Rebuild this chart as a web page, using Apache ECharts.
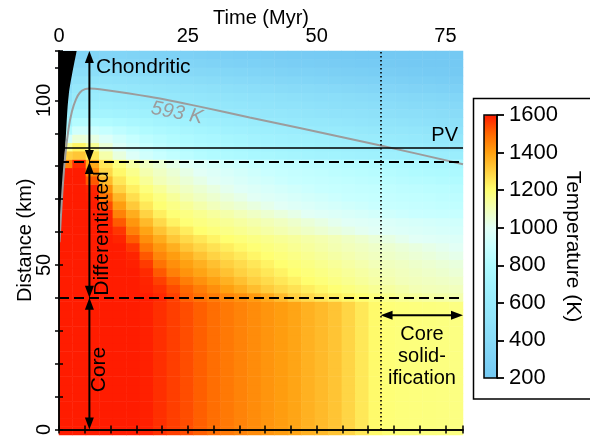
<!DOCTYPE html>
<html><head><meta charset="utf-8">
<script src="https://cdn.jsdelivr.net/npm/echarts/dist/echarts.min.js"></script>
<style>html,body{margin:0;padding:0;background:#fff}#c{width:590px;height:438px}</style>
</head><body><div id="c"></div>
<script>
// ---- axes ----
const timeMax = 78.4;          // Myr
const radiusMax = 115;         // km
const timeLabelStep = 25;
const radiusLabelStep = 50;
const tempMin = 200, tempMax = 1600;

// ---- structure lines (km / Myr) ----
const layerBounds = [0, 40, 81.3, 115];   // core | differentiated | chondritic
const pvRadius = 85.5;
const solidificationStart = 62.4;
const arrowTime = 5.9;
const solidArrowRadius = 34.7;

// ---- 593 K isotherm ----
const isoTime   = [0.1, 0.58, 1.16, 1.84, 2.52, 3.29, 4.07, 5.04, 6.0, 7.9, 17.6, 27.3, 37.0, 46.7, 62.4, 78.4];
const isoRadius = [56.9, 70.4, 82.3, 91.3, 96.7, 100.3, 102.4, 103.4, 103.6, 103.4, 101.1, 98.1, 94.8, 91.6, 86.3, 80.6];

// ---- accretion front (outside of body = black) ----
const accTime   = [0, 0.2, 0.62, 1.25, 1.9, 3.43];
const accRadius = [50, 59, 71.9, 86.8, 101.8, 115];

// ---- temperature field (K): 30 time columns x 2.5 km rows ----
// core rows (0-40 km) are isothermal with depth
const coreTemps = [1600,1600,1600,1600,1600,1600,1595,1575,1555,1535,1512,1490,1470,1452,1435,1420,1405,1390,1365,1345,1325,1290,1250,1210,1190,1185,1182,1180,1178,1175];
// differentiated mantle rows, 40 km upward
const mantleTemps = [
[1600,1600,1600,1600,1600,1600,1600,1585,1553,1510,1485,1466,1447,1429,1410,1382,1341,1301,1278,1255,1236,1218,1200,1182,1164,1148,1140,1131,1123,1114],
[1600,1600,1600,1600,1600,1600,1592,1574,1537,1500,1463,1430,1400,1370,1339,1309,1284,1261,1237,1214,1194,1179,1164,1149,1134,1119,1104,1098,1095,1091],
[1600,1600,1600,1600,1600,1600,1590,1553,1506,1460,1426,1395,1364,1333,1301,1277,1252,1228,1203,1187,1172,1157,1142,1127,1112,1099,1092,1086,1079,1073],
[1600,1600,1600,1600,1600,1600,1582,1520,1457,1422,1391,1360,1329,1298,1274,1249,1225,1200,1186,1172,1158,1143,1129,1115,1101,1091,1082,1073,1064,1054],
[1600,1600,1600,1600,1600,1595,1559,1480,1430,1398,1366,1334,1301,1276,1251,1226,1201,1186,1172,1157,1143,1128,1114,1099,1090,1080,1070,1060,1050,1040],
[1600,1600,1600,1600,1600,1590,1521,1444,1405,1366,1328,1293,1268,1244,1219,1197,1183,1169,1154,1140,1126,1112,1098,1087,1076,1065,1054,1043,1031,1020],
[1600,1600,1600,1600,1600,1566,1474,1415,1368,1321,1287,1262,1237,1213,1193,1179,1166,1152,1138,1124,1110,1097,1085,1073,1061,1049,1037,1025,1013,1001],
[1600,1600,1600,1600,1590,1515,1431,1375,1319,1281,1252,1223,1198,1186,1173,1161,1149,1137,1124,1112,1100,1083,1066,1049,1032,1015,999,992,985,978],
[1600,1600,1600,1600,1567,1458,1391,1328,1278,1238,1200,1185,1170,1155,1140,1125,1110,1094,1077,1060,1043,1027,1010,997,989,981,973,965,957,949],
[1600,1600,1600,1595,1519,1418,1346,1280,1226,1192,1177,1162,1147,1132,1117,1102,1085,1067,1049,1031,1013,998,989,980,972,963,955,946,937,929],
[1600,1600,1600,1590,1454,1372,1293,1235,1192,1174,1155,1136,1118,1099,1079,1060,1041,1022,1002,989,977,965,952,940,928,916,903,898,895,891],
[1600,1600,1600,1540,1405,1314,1250,1196,1170,1144,1118,1094,1075,1056,1037,1017,999,985,972,958,945,931,918,904,897,892,887,882,877,872],
[1600,1600,1595,1477,1353,1271,1215,1175,1141,1108,1084,1063,1042,1022,1001,986,972,958,944,929,915,901,895,889,883,877,871,865,859,853],
[1600,1600,1590,1419,1293,1232,1181,1143,1104,1080,1058,1035,1013,993,977,961,945,930,914,899,892,886,879,873,866,860,853,846,840,833],
[1600,1600,1520,1345,1252,1190,1145,1100,1075,1051,1026,1002,984,965,947,929,911,897,889,882,874,866,858,850,843,835,827,819,811,804],
[1600,1600,1440,1284,1213,1161,1113,1080,1053,1026,999,980,961,942,922,903,892,883,874,865,856,847,838,829,820,811,802,792,783,774],
[1450,1580,1380,1252,1182,1128,1086,1056,1026,997,976,955,935,914,897,887,877,866,856,846,836,826,816,806,796,786,776,765,755,745]
];
// chondritic rows, 82.5 km upward to the surface
const crustTemps = [
[1300,1320,1250,1120,1040,980,930,900,870,845,820,805,790,775,760,748,735,725,715,705,695,688,680,673,666,659,652,645,638,632],
[1150,1220,1150,1050,980,930,890,860,835,812,792,775,760,745,730,717,705,694,684,674,664,655,646,637,628,619,610,601,592,583],
[950,1050,1030,980,930,890,855,828,805,785,767,750,735,720,705,692,680,668,657,647,637,627,617,607,597,587,577,567,557,547],
[800,930,920,890,860,830,800,778,758,740,723,707,692,678,664,651,638,626,615,604,594,584,574,564,554,544,534,524,514,504],
[700,820,820,800,780,755,735,715,698,682,667,652,638,625,612,600,589,578,568,558,548,538,528,518,508,498,488,478,468,458],
[620,720,730,715,700,685,670,655,640,627,614,601,589,577,566,555,544,534,524,514,504,494,484,474,464,454,444,434,424,414],
[560,650,660,650,640,628,616,605,594,582,570,558,547,536,525,515,505,495,485,475,465,455,445,435,425,415,405,395,385,375],
[500,600,615,607,598,588,578,568,557,546,535,524,513,502,492,482,472,462,452,442,432,422,412,402,392,382,372,362,352,342],
[450,560,590,580,565,550,537,524,511,498,486,474,462,450,439,428,417,406,396,386,376,366,356,346,336,326,316,306,296,286],
[400,500,520,510,498,485,472,460,448,436,424,413,402,391,380,370,360,350,341,332,323,314,305,296,287,278,270,262,254,246],
[360,440,455,448,438,427,416,405,394,383,372,362,352,342,332,322,313,304,295,286,278,270,262,254,246,238,231,224,217,210],
[320,380,395,388,380,370,360,350,340,330,320,311,302,293,284,276,268,260,252,245,238,231,224,217,210,205,200,200,200,200],
[280,330,340,335,328,320,312,304,296,288,280,272,265,258,251,244,238,232,226,220,214,208,203,200,200,200,200,200,200,200]
];

// colour scale (200 ... 1600 K, every 100 K)
const tempColors = ['#74c9f3','#7ed2f6','#88dbf8','#90e3fa','#98ebfc','#a2f3fe','#b0fbff','#c8ffff','#e2fff6','#f2ffb8','#ffff70','#ffd040','#ffa010','#ff6800','#ff1c00'];

// ---- build heatmap cells ----
const rowHeight = 2.5;
const coreRowCount = Math.round(layerBounds[1] / rowHeight);
const fieldRows = [];
for (let k = 0; k < coreRowCount; k++) fieldRows.push(coreTemps);
mantleTemps.forEach(r => fieldRows.push(r));
crustTemps.forEach(r => fieldRows.push(r));
const heatData = [];
fieldRows.forEach((row, k) => row.forEach((v, i) => heatData.push([i, k, v])));
const colCats = coreTemps.map((_, i) => String(i));
const rowCats = fieldRows.map((_, k) => String(k));

const arrowData = [
  [arrowTime, layerBounds[3], arrowTime, layerBounds[2]],
  [arrowTime, layerBounds[2], arrowTime, layerBounds[1]],
  [arrowTime, layerBounds[1], arrowTime, layerBounds[0]],
  [solidificationStart, solidArrowRadius, timeMax, solidArrowRadius]
];

function renderArrow(params, api) {
  const p1 = api.coord([api.value(0), api.value(1)]);
  const p2 = api.coord([api.value(2), api.value(3)]);
  const dx = p2[0] - p1[0], dy = p2[1] - p1[1];
  const len = Math.hypot(dx, dy) || 1;
  const ux = dx / len, uy = dy / len, nx = -uy, ny = ux;
  const hl = 12, hw = 4.5;
  const head = (tip, dir) => ({
    type: 'polygon',
    shape: { points: [tip,
      [tip[0] - dir * ux * hl + nx * hw, tip[1] - dir * uy * hl + ny * hw],
      [tip[0] - dir * ux * hl - nx * hw, tip[1] - dir * uy * hl - ny * hw]] },
    style: { fill: '#000' }
  });
  return { type: 'group', children: [
    { type: 'line', shape: { x1: p1[0] + ux * hl * 0.7, y1: p1[1] + uy * hl * 0.7, x2: p2[0] - ux * hl * 0.7, y2: p2[1] - uy * hl * 0.7 },
      style: { stroke: '#000', lineWidth: 2 } },
    head(p1, -1), head(p2, 1)
  ]};
}

const FONT = 'Liberation Sans';
const plotRect = { left: 59, top: 51, width: 404, height: 384 };
const boxLine = { lineStyle: { color: '#000', width: 1.5 } };

const chart = echarts.init(document.getElementById('c'), null, { renderer: 'canvas' });
chart.setOption({
  animation: false,
  backgroundColor: '#fff',
  textStyle: { fontFamily: FONT, color: '#000' },
  grid: [
    Object.assign({ containLabel: false }, plotRect),
    Object.assign({ containLabel: false }, plotRect),
    { left: 484, top: 115, width: 13, height: 263, show: true, z: 10, backgroundColor: 'transparent', borderColor: '#000', borderWidth: 1.5 }
  ],
  xAxis: [
    { type: 'value', gridIndex: 0, position: 'top', min: 0, max: timeMax, interval: 5, z: 10,
      name: 'Time (Myr)', nameLocation: 'middle', nameGap: 23, nameMoveOverlap: false,
      nameTextStyle: { fontSize: 20, fontFamily: FONT, color: '#000' },
      axisLine: boxLine, splitLine: { show: false },
      axisTick: { inside: true, length: 4, lineStyle: { color: '#000', width: 1.5 } },
      axisLabel: { fontSize: 20, color: '#000', fontFamily: FONT, margin: 5,
        formatter: v => (v % timeLabelStep === 0 ? String(v) : '') } },
    { type: 'value', gridIndex: 0, position: 'bottom', min: 0, max: timeMax, interval: 5, z: 10,
      axisLine: boxLine, splitLine: { show: false },
      axisTick: { inside: true, length: 4, lineStyle: { color: '#000', width: 1.5 } },
      axisLabel: { show: false } },
    { type: 'category', gridIndex: 1, data: colCats, show: false, boundaryGap: true },
    { type: 'value', gridIndex: 2, show: false, min: 0, max: 1, axisLine: { onZero: false } }
  ],
  yAxis: [
    { type: 'value', gridIndex: 0, position: 'left', min: 0, max: radiusMax, interval: 10, z: 10,
      name: 'Distance (km)', nameLocation: 'middle', nameGap: 24, nameRotate: 90, nameMoveOverlap: false,
      nameTextStyle: { fontSize: 20, fontFamily: FONT, color: '#000' },
      axisLine: boxLine, splitLine: { show: false },
      axisTick: { inside: true, length: 4, lineStyle: { color: '#000', width: 1.5 } },
      axisLabel: { fontSize: 20, color: '#000', fontFamily: FONT, rotate: 90, margin: 5,
        formatter: v => (v % radiusLabelStep === 0 ? String(v) : '') } },
    { type: 'value', gridIndex: 0, position: 'right', min: 0, max: radiusMax, interval: 10, z: 10,
      axisLine: boxLine, splitLine: { show: false },
      axisTick: { inside: true, length: 4, lineStyle: { color: '#000', width: 1.5 } },
      axisLabel: { show: false } },
    { type: 'category', gridIndex: 1, data: rowCats, show: false, boundaryGap: true },
    { type: 'value', gridIndex: 2, position: 'right', min: tempMin, max: tempMax, interval: 200, z: 12,
      name: 'Temperature (K)', nameLocation: 'middle', nameRotate: -90, nameGap: 62,
      nameTextStyle: { fontSize: 21, fontFamily: FONT, color: '#000' },
      axisLine: { show: true, onZero: false, lineStyle: { color: '#000', width: 1.5 } }, splitLine: { show: false },
      axisTick: { show: true, inside: false, length: 7, lineStyle: { color: '#000', width: 1.8 } },
      axisLabel: { fontSize: 22, color: '#000', fontFamily: FONT, margin: 12, formatter: v => String(v) } }
  ],
  visualMap: {
    type: 'continuous', seriesIndex: 0, min: tempMin, max: tempMax,
    calculable: false, show: true, orient: 'vertical',
    left: 484, top: 115, itemWidth: 13, itemHeight: 263, padding: 0,
    inRange: { color: tempColors }, hoverLink: false
  },
  series: [
    { type: 'heatmap', xAxisIndex: 2, yAxisIndex: 2, data: heatData, z: 1, silent: true,
      itemStyle: { borderWidth: 0 }, progressive: 0 },
    { type: 'line', xAxisIndex: 0, yAxisIndex: 0, z: 3, silent: true,
      data: accTime.map((t, i) => [t, accRadius[i]]), symbol: 'none', smooth: 0.3,
      lineStyle: { width: 0 }, areaStyle: { color: '#000', opacity: 1, origin: 'end' } },
    { type: 'line', xAxisIndex: 0, yAxisIndex: 0, z: 4, silent: true,
      data: isoTime.map((t, i) => [t, isoRadius[i]]), symbol: 'none', smooth: 0.2,
      lineStyle: { color: '#9c9c9c', width: 2 },
      markLine: { silent: true, symbol: ['none', 'none'], label: { show: false },
        data: [
          { yAxis: pvRadius, lineStyle: { color: '#000', type: 'solid', width: 1.5 } },
          { yAxis: layerBounds[2], lineStyle: { color: '#000', type: [10, 5], width: 2 } },
          { yAxis: layerBounds[1], lineStyle: { color: '#000', type: [10, 5], width: 2 } },
          { xAxis: solidificationStart, lineStyle: { color: '#000', type: [1.5, 2.5], width: 1.6 } }
        ] } },
    { type: 'custom', xAxisIndex: 0, yAxisIndex: 0, z: 6, silent: true,
      renderItem: renderArrow, data: arrowData, encode: { x: [0, 2], y: [1, 3] } }
  ],
  graphic: [
    { type: 'rect', shape: { x: 473.5, y: 98.5, width: 140, height: 300.5 }, style: { fill: 'none', stroke: '#000', lineWidth: 1.5 }, z: 20 },
    { type: 'text', x: 96, y: 67.5, z: 20, style: { text: 'Chondritic', font: '21px "Liberation Sans"', fill: '#000', align: 'left', verticalAlign: 'middle' } },
    { type: 'text', x: 177, y: 113, rotation: -0.19, z: 20, style: { text: '593 K', font: 'italic 20px "Liberation Sans"', fill: '#9c9c9c', align: 'center', verticalAlign: 'middle' } },
    { type: 'text', x: 458, y: 135.5, z: 20, style: { text: 'PV', font: '20px "Liberation Sans"', fill: '#000', align: 'right', verticalAlign: 'middle' } },
    { type: 'text', x: 102, y: 233.5, rotation: Math.PI / 2, z: 20, style: { text: 'Differentiated', font: '21px "Liberation Sans"', fill: '#000', align: 'center', verticalAlign: 'middle' } },
    { type: 'text', x: 99, y: 369.5, rotation: Math.PI / 2, z: 20, style: { text: 'Core', font: '21px "Liberation Sans"', fill: '#000', align: 'center', verticalAlign: 'middle' } },
    { type: 'text', x: 422, y: 356, z: 20, style: { text: 'Core\nsolid-\nification', font: '20px "Liberation Sans"', lineHeight: 22, fill: '#000', align: 'center', verticalAlign: 'middle' } }
  ]
});
</script>
</body></html>
